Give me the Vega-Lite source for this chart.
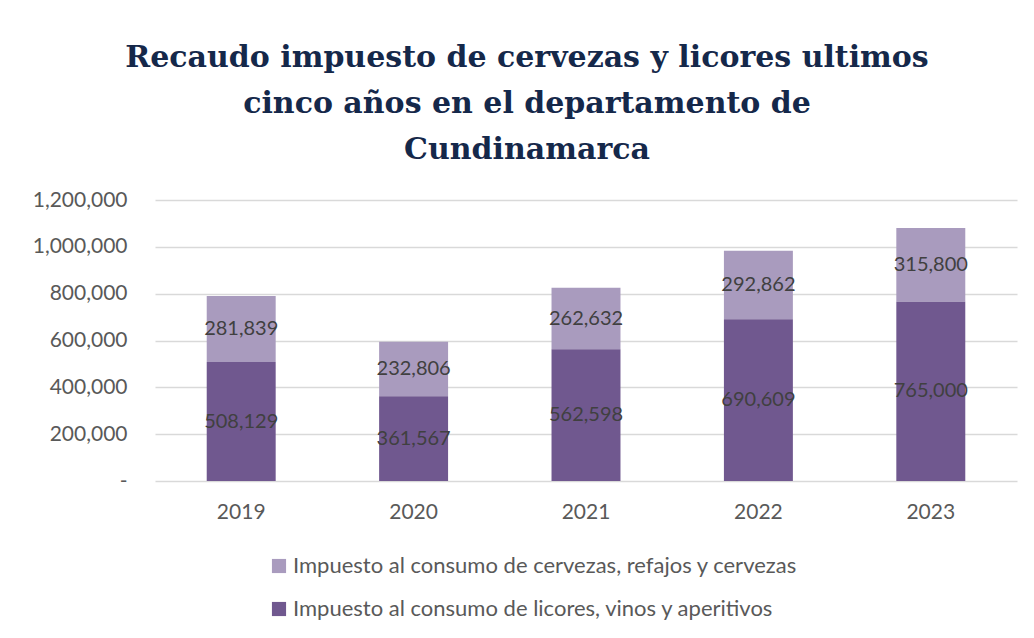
{
  "$schema": "https://vega.github.io/schema/vega-lite/v6.json",
  "width": 862,
  "height": 281,
  "autosize": {"type": "none"},
  "padding": {"left": 155, "top": 200, "right": 17, "bottom": 157},
  "background": "white",
  "config": {"view": {"stroke": null}},
  "title": {
    "text": ["Recaudo impuesto de cervezas y licores ultimos", "cinco años en el departamento de", "Cundinamarca"],
    "anchor": "middle",
    "dx": -59,
    "font": "DejaVu Serif",
    "fontWeight": "bold",
    "fontSize": 30,
    "lineHeight": 46,
    "color": "#15284a",
    "offset": 24
  },
  "data": {
    "values": [
      {"year": "2019", "serie": "Impuesto al consumo de cervezas, refajos y cervezas", "valor": 281839},
      {"year": "2019", "serie": "Impuesto al consumo de licores, vinos y aperitivos", "valor": 508129},
      {"year": "2020", "serie": "Impuesto al consumo de cervezas, refajos y cervezas", "valor": 232806},
      {"year": "2020", "serie": "Impuesto al consumo de licores, vinos y aperitivos", "valor": 361567},
      {"year": "2021", "serie": "Impuesto al consumo de cervezas, refajos y cervezas", "valor": 262632},
      {"year": "2021", "serie": "Impuesto al consumo de licores, vinos y aperitivos", "valor": 562598},
      {"year": "2022", "serie": "Impuesto al consumo de cervezas, refajos y cervezas", "valor": 292862},
      {"year": "2022", "serie": "Impuesto al consumo de licores, vinos y aperitivos", "valor": 690609},
      {"year": "2023", "serie": "Impuesto al consumo de cervezas, refajos y cervezas", "valor": 315800},
      {"year": "2023", "serie": "Impuesto al consumo de licores, vinos y aperitivos", "valor": 765000}
    ]
  },
  "encoding": {
    "x": {
      "field": "year", "type": "nominal",
      "scale": {"paddingInner": 0.6, "paddingOuter": 0.3},
      "axis": {
        "title": null, "labelAngle": 0, "ticks": false, "domain": false,
        "labelFont": "Lato", "labelFontSize": 21, "labelColor": "#595959", "labelPadding": 20
      }
    },
    "y": {
      "field": "valor", "type": "quantitative", "stack": "zero",
      "scale": {"domain": [0, 1200000]},
      "axis": {
        "title": null, "values": [0, 200000, 400000, 600000, 800000, 1000000, 1200000],
        "ticks": false, "domain": false, "labelOverlap": false,
        "gridColor": "#d9d9d9", "gridWidth": 1.5,
        "labelFont": "Lato", "labelFontSize": 21, "labelColor": "#595959", "labelPadding": 28,
        "labelExpr": "datum.value == 0 ? '-' : format(datum.value, ',')"
      }
    },
    "order": {"field": "serie", "sort": "descending"}
  },
  "layer": [
    {
      "mark": {"type": "bar"},
      "encoding": {
        "color": {
          "field": "serie", "type": "nominal",
          "scale": {
            "domain": ["Impuesto al consumo de cervezas, refajos y cervezas", "Impuesto al consumo de licores, vinos y aperitivos"],
            "range": ["#a99bbe", "#70588f"]
          },
          "legend": {
            "title": null, "orient": "none", "direction": "vertical",
            "legendX": 113, "legendY": 355,
            "symbolType": "square", "symbolSize": 200, "symbolStrokeWidth": 0,
            "labelFont": "Lato", "labelFontSize": 22, "labelColor": "#595959", "labelLimit": 0,
            "rowPadding": 21, "labelOffset": 3
          }
        }
      }
    },
    {
      "mark": {"type": "text", "font": "Lato", "fontSize": 20, "color": "#404040"},
      "encoding": {
        "y": {"field": "valor", "type": "quantitative", "stack": "zero", "bandPosition": 0.5},
        "text": {"field": "valor", "type": "quantitative", "format": ","}
      }
    }
  ]
}
